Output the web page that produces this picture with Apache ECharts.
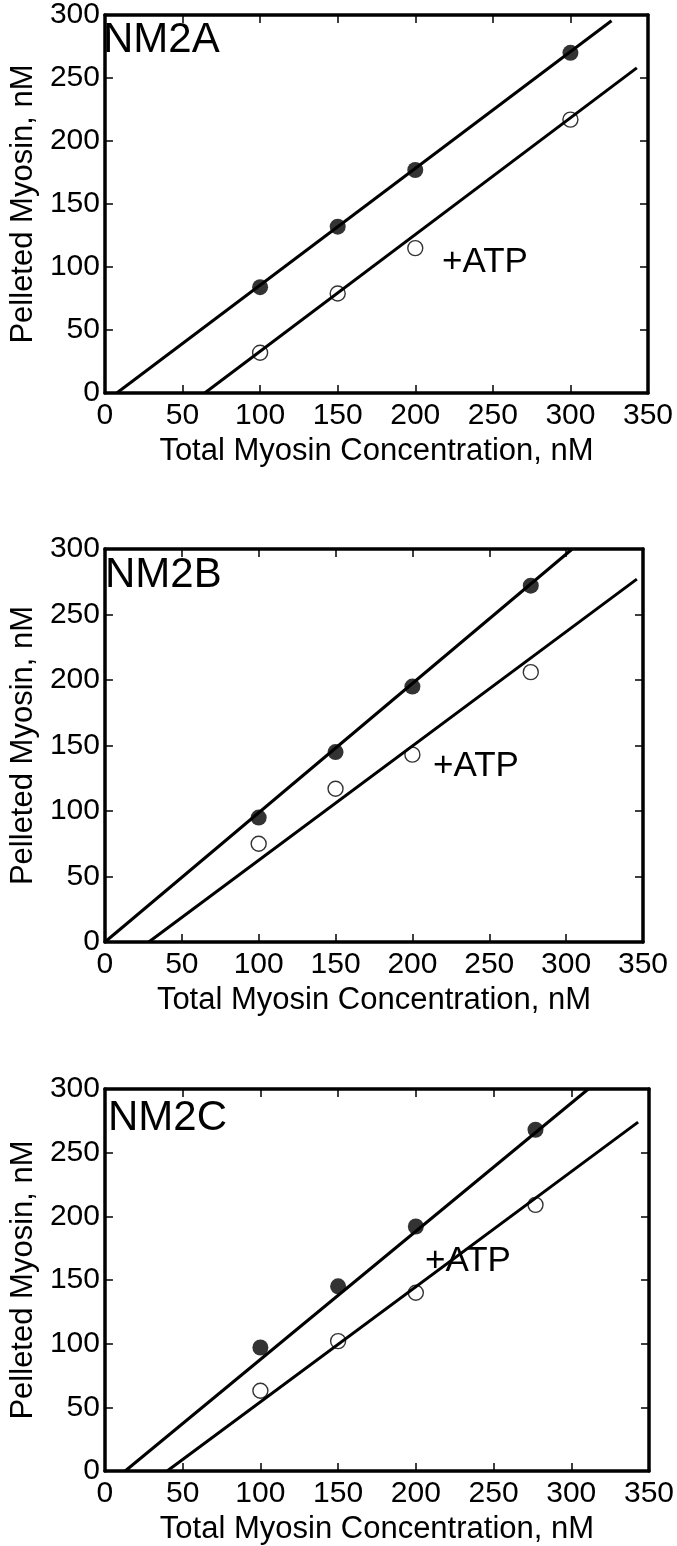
<!DOCTYPE html>
<html>
<head>
<meta charset="utf-8">
<script src="https://cdn.jsdelivr.net/npm/echarts@6/dist/echarts.min.js"></script>
<style>
  html, body { margin: 0; padding: 0; background: #fff; }
  #chart { width: 677px; height: 1546px; }
</style>
</head>
<body>
<div id="chart"></div>
<script>
// panel A (NM2A)
const xA = [100, 150, 200, 300]
const filledA = [84, 132, 177, 270]
const openA = [32, 79, 115, 217]
const fitFilledA = [[7.6, 0], [326.5, 295.4]]
const fitOpenA = [[64.3, 0], [342.8, 258]]

// panel B (NM2B)
const xB = [100, 150, 200, 277]
const filledB = [95, 145, 195, 272]
const openB = [75, 117, 143, 206]
const fitFilledB = [[0, 0], [304, 300]]
const fitOpenB = [[28.5, 0], [346, 277]]

// panel C (NM2C)
const xC = [100, 150, 200, 277]
const filledC = [97, 145, 192, 268]
const openC = [63, 102, 140, 209]
const fitFilledC = [[13, 0], [311, 300]]
const fitOpenC = [[40, 0], [343, 274]]

const xTicks = { min: 0, max: 350, interval: 50 }
const yTicks = { min: 0, max: 300, interval: 50 }
const panelNames = ['NM2A', 'NM2B', 'NM2C']
const xTitle = 'Total Myosin Concentration, nM'
const yTitle = 'Pelleted Myosin, nM'

const FONT = '"Liberation Sans", Arial, Helvetica, sans-serif'

const grids = [
  { left: 93, top: 8, width: 555, height: 385 },
  { left: 91, top: 549, width: 552, height: 393 },
  { left: 96, top: 1089, width: 555, height: 386 }
]

const panels = [
  { x: xA, filled: filledA, open: openA, fitF: fitFilledA, fitO: fitOpenA },
  { x: xB, filled: filledB, open: openB, fitF: fitFilledB, fitO: fitOpenB },
  { x: xC, filled: filledC, open: openC, fitF: fitFilledC, fitO: fitOpenC }
]

const axisLine = { show: true, onZero: false, lineStyle: { color: '#000', width: 3.5 } }
const axisTick = { show: true, inside: true, length: 8, lineStyle: { color: '#000', width: 1.5 } }

const xAxes = []
const yAxes = []
grids.forEach((g, i) => {
  // bottom axis with labels
  xAxes.push({
    type: 'value', gridIndex: i, position: 'bottom',
    min: xTicks.min, max: xTicks.max, interval: xTicks.interval,
    axisLine, axisTick, splitLine: { show: false },
    axisLabel: { fontSize: 30, color: '#000', margin: 8, fontFamily: FONT },
    name: xTitle, nameLocation: 'middle', nameGap: 43,
    nameTextStyle: { fontSize: 31, color: '#000', fontFamily: FONT }
  })
  // top frame
  xAxes.push({
    type: 'value', gridIndex: i, position: 'top',
    min: xTicks.min, max: xTicks.max, interval: xTicks.interval,
    axisLine, axisTick, splitLine: { show: false }, axisLabel: { show: false }
  })
  yAxes.push({
    type: 'value', gridIndex: i, position: 'left',
    min: yTicks.min, max: yTicks.max, interval: yTicks.interval,
    axisLine, axisTick, splitLine: { show: false },
    axisLabel: { fontSize: 30, color: '#000', margin: 5, fontFamily: FONT },
    name: yTitle, nameLocation: 'middle', nameGap: 63,
    nameTextStyle: { fontSize: 31, color: '#000', fontFamily: FONT }
  })
  yAxes.push({
    type: 'value', gridIndex: i, position: 'right',
    min: yTicks.min, max: yTicks.max, interval: yTicks.interval,
    axisLine, axisTick, splitLine: { show: false }, axisLabel: { show: false }
  })
})

const series = []
panels.forEach((p, i) => {
  const xi = i * 2
  const yi = i * 2
  series.push({
    type: 'line', xAxisIndex: xi, yAxisIndex: yi, data: p.fitF,
    symbol: 'none', lineStyle: { color: '#000', width: 3 }, z: 3
  })
  series.push({
    type: 'line', xAxisIndex: xi, yAxisIndex: yi, data: p.fitO,
    symbol: 'none', lineStyle: { color: '#000', width: 3 }, z: 3
  })
  series.push({
    type: 'scatter', xAxisIndex: xi, yAxisIndex: yi,
    data: p.x.map((v, k) => [v, p.filled[k]]),
    symbol: 'circle', symbolSize: 16, itemStyle: { color: '#000' }, z: 4
  })
  series.push({
    type: 'scatter', xAxisIndex: xi, yAxisIndex: yi,
    data: p.x.map((v, k) => [v, p.open[k]]),
    symbol: 'circle', symbolSize: 15,
    itemStyle: { color: 'rgba(255,255,255,0)', borderColor: '#000', borderWidth: 1.4 }, z: 4
  })
})

// panel labels and +ATP notes
const nameTops = [19, 554, 1097]
const nameLefts = [103, 105, 108]
const atpPos = [[442, 245], [433, 749], [425, 1244]]
const graphic = []
grids.forEach((g, i) => {
  graphic.push({
    type: 'text', left: nameLefts[i], top: nameTops[i],
    style: { text: panelNames[i], font: '42px ' + FONT, fill: '#000' }
  })
  graphic.push({
    type: 'text', left: atpPos[i][0], top: atpPos[i][1],
    style: { text: '+ATP', font: '35px ' + FONT, fill: '#000' }
  })
})

const option = {
  animation: false,
  backgroundColor: '#fff',
  textStyle: { fontFamily: FONT },
  grid: grids,
  xAxis: xAxes,
  yAxis: yAxes,
  series,
  graphic
}

const myChart = echarts.init(document.getElementById('chart'), null, { renderer: 'canvas' })
myChart.setOption(option)
</script>
</body>
</html>
